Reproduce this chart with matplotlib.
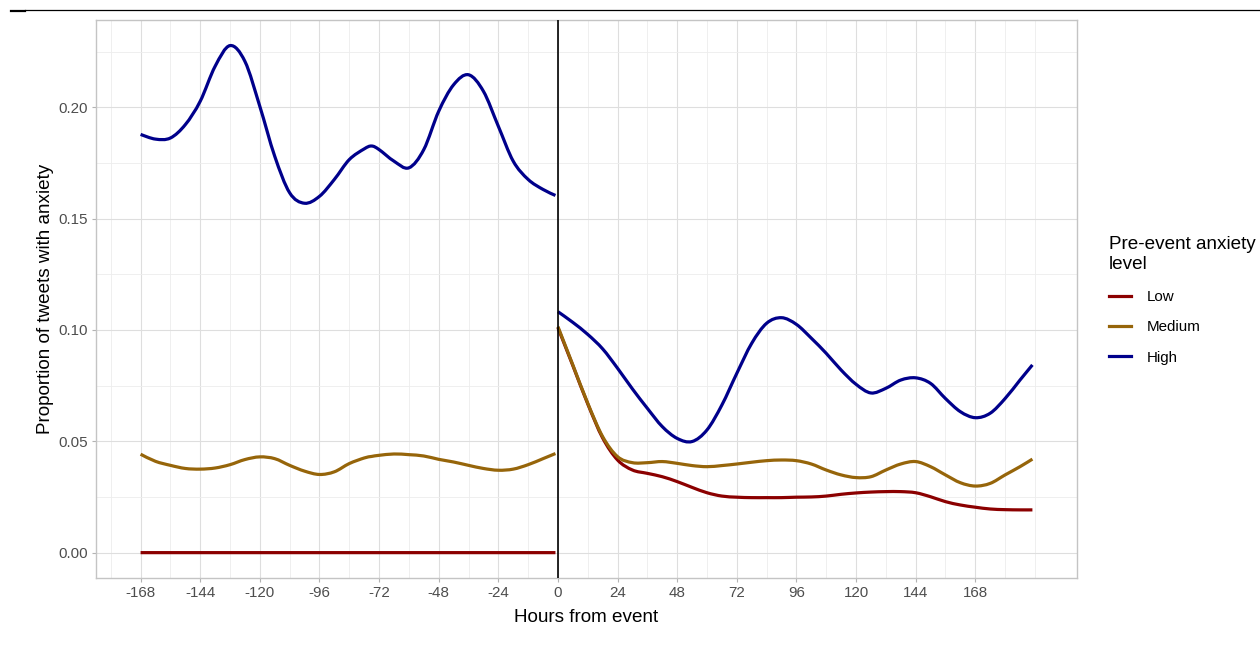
import numpy as np
import matplotlib
matplotlib.use("Agg")
import matplotlib.pyplot as plt
from matplotlib.path import Path
from matplotlib.patches import PathPatch
from matplotlib.lines import Line2D

plt.rcParams['font.family'] = ['Liberation Sans', 'DejaVu Sans']

# ---------------- data ----------------
hours_pre = [-168, -162, -156, -150, -144, -138, -132, -126, -120, -114, -108, -102,
             -96, -90, -84, -78, -75, -72, -66, -60, -54, -48, -42, -36, -30, -24,
             -18, -12, -6, -1]
high_pre = [0.1878, 0.1857, 0.1862, 0.1922, 0.2027, 0.2184, 0.2277, 0.2206, 0.2004,
            0.1780, 0.1616, 0.1569, 0.1600, 0.1676, 0.1765, 0.1813, 0.1826, 0.1810,
            0.1758, 0.1728, 0.1810, 0.1982, 0.2101, 0.2146, 0.2072, 0.1915, 0.1758,
            0.1676, 0.1631, 0.1604]
medium_pre = [0.0442, 0.0410, 0.0392, 0.0378, 0.0375, 0.0380, 0.0395, 0.0418, 0.0430,
              0.0422, 0.0392, 0.0366, 0.0351, 0.0363, 0.0400, 0.0425, 0.0432, 0.0437,
              0.0443, 0.0440, 0.0434, 0.0419, 0.0407, 0.0392, 0.0378, 0.0370, 0.0375,
              0.0395, 0.0422, 0.0445]
low_pre = [0.0, 0.0, 0.0, 0.0, 0.0, 0.0, 0.0, 0.0, 0.0, 0.0, 0.0, 0.0, 0.0, 0.0, 0.0,
           0.0, 0.0, 0.0, 0.0, 0.0, 0.0, 0.0, 0.0, 0.0, 0.0, 0.0, 0.0, 0.0, 0.0, 0.0]

hours_post = [0, 6, 12, 18, 24, 30, 36, 42, 48, 54, 60, 66, 72, 78, 84, 90, 96, 102,
              108, 114, 120, 126, 132, 138, 144, 150, 156, 162, 168, 174, 180, 186, 191]
high_post = [0.1082, 0.1034, 0.0980, 0.0915, 0.0828, 0.0735, 0.0648, 0.0566, 0.0513,
             0.0499, 0.0551, 0.0663, 0.0805, 0.0940, 0.1030, 0.1055, 0.1025, 0.0963,
             0.0895, 0.0820, 0.0756, 0.0717, 0.0738, 0.0775, 0.0785, 0.0760, 0.0692,
             0.0633, 0.0606, 0.0626, 0.0692, 0.0775, 0.0843]
medium_post = [0.1015, 0.0843, 0.0671, 0.0521, 0.0431, 0.0404, 0.0404, 0.0409, 0.0401,
               0.0391, 0.0386, 0.0391, 0.0398, 0.0406, 0.0413, 0.0416, 0.0413, 0.0398,
               0.0371, 0.0349, 0.0337, 0.0341, 0.0371, 0.0398, 0.0409, 0.0386, 0.0349,
               0.0314, 0.0299, 0.0311, 0.0349, 0.0386, 0.0420]
low_post = [0.1010, 0.0840, 0.0668, 0.0515, 0.0416, 0.0371, 0.0356, 0.0341, 0.0319,
            0.0293, 0.0269, 0.0254, 0.0249, 0.0247, 0.0247, 0.0247, 0.0249, 0.0250,
            0.0254, 0.0262, 0.0268, 0.0272, 0.0274, 0.0274, 0.0269, 0.0251, 0.0229,
            0.0214, 0.0204, 0.0196, 0.0193, 0.0192, 0.0192]

levels = ["Low", "Medium", "High"]
colors = {"Low": "#8B0000", "Medium": "#96650A", "High": "#00008B"}
x_ticks = [-168, -144, -120, -96, -72, -48, -24, 0, 24, 48, 72, 96, 120, 144, 168]
y_ticks = [0.00, 0.05, 0.10, 0.15, 0.20]


def smooth_path(x, y):
    """Smooth (Catmull-Rom as cubic Bezier) path through the given points."""
    pts = np.column_stack([np.asarray(x, float), np.asarray(y, float)])
    n = len(pts)
    verts = [pts[0]]
    codes = [Path.MOVETO]
    for i in range(n - 1):
        p0 = pts[i - 1] if i > 0 else pts[i]
        p1 = pts[i]
        p2 = pts[i + 1]
        p3 = pts[i + 2] if i + 2 < n else pts[i + 1]
        c1 = p1 + (p2 - p0) / 6.0
        c2 = p2 - (p3 - p1) / 6.0
        verts += [c1, c2, p2]
        codes += [Path.CURVE4] * 3
    return Path(verts, codes)


W, H = 1260, 668
fig = plt.figure(figsize=(W / 100, H / 100), dpi=100)
L, R, T, B = 96, 1077, 20, 578
ax = fig.add_axes([L / W, 1 - B / H, (R - L) / W, (B - T) / H])

series = {
    "Low": (low_pre, low_post),
    "Medium": (medium_pre, medium_post),
    "High": (high_pre, high_post),
}
for lev in levels:
    pre, post = series[lev]
    for hx, vy in ((hours_pre, pre), (hours_post, post)):
        ax.add_patch(PathPatch(smooth_path(hx, vy), fill=False,
                               edgecolor=colors[lev], lw=2.3,
                               capstyle='butt', joinstyle='round', zorder=3))

ax.axvline(0, color='black', lw=1.2, zorder=4)

# limits with ggplot-style 5% expansion
xmin, xmax = -168, 191
ymin, ymax = 0.0, 0.2278
dx = (xmax - xmin) * 0.05
dy = (ymax - ymin) * 0.05
ax.set_xlim(xmin - dx, xmax + dx)
ax.set_ylim(ymin - dy, ymax + dy)

ax.set_xticks(x_ticks)
ax.set_xticklabels([str(v) for v in x_ticks])
ax.set_yticks(y_ticks)
ax.set_yticklabels([f"{v:.2f}" for v in y_ticks])
ax.set_xticks([-180, -156, -132, -108, -84, -60, -36, -12, 12, 36, 60, 84, 108,
               132, 156, 180, 192], minor=True)
ax.set_yticks([0.025, 0.075, 0.125, 0.175, 0.225], minor=True)

ax.grid(which='major', color='#DEDEDE', lw=0.8)
ax.grid(which='minor', color='#EDEDED', lw=0.6)
ax.set_axisbelow(True)
ax.tick_params(which='major', length=3, width=0.8, color='#B3B3B3',
               labelsize=10.9, labelcolor='#4D4D4D', pad=3)
ax.tick_params(which='minor', length=0)
for sp in ax.spines.values():
    sp.set_color('#C4C4C4')
    sp.set_linewidth(1.0)

ax.set_xlabel("Hours from event", fontsize=13.6, color='black')
ax.xaxis.set_label_coords(0.5, -0.056)
ax.set_ylabel("Proportion of tweets with anxiety", fontsize=13.6, color='black')
ax.yaxis.set_label_coords(-0.043, 0.5)

handles = [Line2D([], [], color=colors[lev], lw=2.3) for lev in levels]
leg = fig.legend(handles, levels, title="Pre-event anxiety\nlevel",
                 loc='upper left', bbox_to_anchor=(1101 / W, 1 - 228 / H),
                 frameon=False, fontsize=10.9, title_fontsize=13.6,
                 alignment='left', borderpad=0, handlelength=1.45,
                 handletextpad=1.1, labelspacing=1.08)
leg.get_title().set_linespacing(1.3)

# thin rule at the very top of the image
fig.add_artist(Line2D([25 / W, 1.0], [1 - 10 / H, 1 - 10 / H],
                      transform=fig.transFigure, color='black', lw=0.9))
fig.add_artist(Line2D([11 / W, 25 / W], [1 - 10.5 / H, 1 - 10.5 / H],
                      transform=fig.transFigure, color='black', lw=1.6))

fig.savefig("out.png", dpi=100)
